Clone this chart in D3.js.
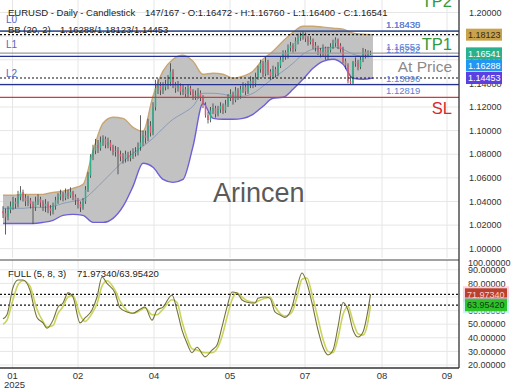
<!DOCTYPE html>
<html>
<head>
<meta charset="utf-8">
<script src="https://cdn.jsdelivr.net/npm/d3@7"></script>
<style>
  body { margin: 0; background: #fff; }
  text { font-family: "Liberation Sans", Arial, sans-serif; }
</style>
</head>
<body>
<svg id="chart"></svg>
<script>
// daily candles (bar index 0..147)
const opens = [
1.032,1.030,1.027,1.033,1.036,1.040,1.038,1.044,1.048,1.043,
1.040,1.041,1.038,1.035,1.040,1.042,1.039,1.036,1.038,1.034,
1.032,1.036,1.041,1.044,1.046,1.043,1.047,1.045,1.048,1.044,
1.041,1.038,1.035,1.040,1.050,1.062,1.078,1.083,1.088,1.085,
1.090,1.093,1.088,1.090,1.086,1.082,1.083,1.080,1.078,1.076,
1.080,1.077,1.079,1.081,1.082,1.086,1.090,1.096,1.094,1.104,
1.098,1.120,1.136,1.138,1.134,1.137,1.139,1.141,1.150,1.139,
1.136,1.138,1.133,1.135,1.131,1.136,1.133,1.129,1.130,1.132,
1.128,1.122,1.113,1.109,1.117,1.119,1.114,1.118,1.121,1.117,
1.122,1.128,1.131,1.126,1.134,1.129,1.135,1.137,1.133,1.139,
1.142,1.140,1.145,1.152,1.157,1.148,1.158,1.150,1.146,1.152,
1.148,1.155,1.160,1.165,1.163,1.170,1.172,1.169,1.176,1.179,
1.180,1.182,1.178,1.175,1.177,1.172,1.170,1.168,1.166,1.170,
1.163,1.168,1.171,1.174,1.177,1.172,1.169,1.159,1.155,1.142,
1.140,1.158,1.157,1.154,1.160,1.167,1.164,1.16472];
const highs = [
1.036,1.034,1.036,1.040,1.044,1.043,1.049,1.053,1.050,1.046,
1.045,1.043,1.040,1.044,1.046,1.044,1.041,1.042,1.040,1.037,
1.039,1.044,1.047,1.050,1.048,1.051,1.050,1.052,1.049,1.046,
1.043,1.040,1.043,1.053,1.065,1.080,1.088,1.093,1.092,1.095,
1.096,1.095,1.094,1.092,1.088,1.087,1.086,1.083,1.081,1.083,
1.082,1.083,1.085,1.086,1.090,1.113,1.100,1.100,1.110,1.108,
1.124,1.143,1.144,1.141,1.141,1.143,1.147,1.157,1.152,1.141,
1.142,1.140,1.139,1.137,1.139,1.138,1.135,1.134,1.136,1.134,
1.130,1.124,1.116,1.120,1.123,1.121,1.121,1.124,1.123,1.126,
1.131,1.135,1.133,1.137,1.136,1.138,1.141,1.140,1.142,1.146,
1.145,1.149,1.155,1.160,1.159,1.163,1.160,1.152,1.155,1.154,
1.158,1.163,1.168,1.168,1.173,1.175,1.174,1.179,1.182,1.183,
1.184,1.183,1.180,1.180,1.178,1.175,1.172,1.170,1.173,1.171,
1.171,1.174,1.177,1.179,1.178,1.174,1.171,1.161,1.157,1.146,
1.159,1.162,1.160,1.163,1.170,1.169,1.168,1.16760];
const lows = [
1.026,1.012,1.024,1.030,1.033,1.034,1.035,1.041,1.040,1.036,
1.036,1.034,1.021,1.032,1.037,1.035,1.032,1.031,1.030,1.028,
1.029,1.033,1.038,1.041,1.040,1.041,1.042,1.043,1.041,1.037,
1.034,1.031,1.033,1.038,1.048,1.060,1.075,1.080,1.081,1.083,
1.087,1.085,1.085,1.083,1.079,1.078,1.063,1.074,1.072,1.073,
1.074,1.074,1.076,1.078,1.079,1.083,1.087,1.089,1.091,1.095,
1.096,1.117,1.131,1.130,1.131,1.134,1.135,1.138,1.136,1.132,
1.133,1.130,1.130,1.128,1.128,1.130,1.126,1.126,1.127,1.125,
1.119,1.111,1.106,1.107,1.114,1.111,1.112,1.115,1.114,1.115,
1.120,1.125,1.122,1.124,1.126,1.127,1.132,1.130,1.131,1.136,
1.136,1.137,1.143,1.149,1.145,1.146,1.147,1.143,1.144,1.145,
1.146,1.153,1.158,1.160,1.161,1.167,1.166,1.167,1.173,1.176,
1.177,1.175,1.172,1.173,1.169,1.167,1.164,1.162,1.163,1.160,
1.160,1.166,1.169,1.171,1.169,1.166,1.157,1.152,1.140,1.139,
1.139,1.154,1.151,1.152,1.158,1.161,1.162,1.16400];
const closes = [
1.030,1.027,1.033,1.036,1.040,1.038,1.044,1.048,1.043,1.040,
1.041,1.038,1.035,1.040,1.042,1.039,1.036,1.038,1.034,1.032,
1.036,1.041,1.044,1.046,1.043,1.047,1.045,1.048,1.044,1.041,
1.038,1.035,1.040,1.050,1.062,1.078,1.083,1.088,1.085,1.090,
1.093,1.088,1.090,1.086,1.082,1.083,1.080,1.078,1.076,1.080,
1.077,1.079,1.081,1.082,1.086,1.090,1.096,1.094,1.104,1.098,
1.120,1.136,1.138,1.134,1.137,1.139,1.141,1.150,1.139,1.136,
1.138,1.133,1.135,1.131,1.136,1.133,1.129,1.130,1.132,1.128,
1.122,1.113,1.109,1.117,1.119,1.114,1.118,1.121,1.117,1.122,
1.128,1.131,1.126,1.134,1.129,1.135,1.137,1.133,1.139,1.142,
1.140,1.145,1.152,1.157,1.148,1.158,1.150,1.146,1.152,1.148,
1.155,1.160,1.165,1.163,1.170,1.172,1.169,1.176,1.179,1.180,
1.182,1.178,1.175,1.177,1.172,1.170,1.168,1.166,1.170,1.163,
1.168,1.171,1.174,1.177,1.172,1.169,1.159,1.155,1.142,1.140,
1.158,1.157,1.154,1.160,1.167,1.164,1.1647,1.16541];

// Bollinger (20, 2), sampled every 4 bars
const bbIdx = [0,4,8,12,16,20,24,28,32,36,40,44,48,52,56,60,64,68,72,76,80,84,88,92,96,100,104,108,112,116,120,124,128,132,136,140,144,148];
const bbUpper = [1.0452,1.0452,1.0460,1.0460,1.0460,1.0477,1.0486,1.0511,1.0545,1.0825,
  1.1062,1.1113,1.1104,1.1028,1.0994,1.1291,1.1503,1.1604,1.1638,1.1587,
  1.1477,1.1486,1.1477,1.1443,1.1460,1.1503,1.1604,1.1672,1.1757,1.1833,
  1.1884,1.1884,1.1876,1.1867,1.1859,1.1825,1.1816,1.1812];
const bbMid = [1.0342,1.0342,1.0342,1.0350,1.0350,1.0358,1.0384,1.0401,1.0418,1.0486,
  1.0570,1.0655,1.0740,1.0808,1.0867,1.0935,1.1020,1.1096,1.1147,1.1206,
  1.1316,1.1316,1.1308,1.1291,1.1291,1.1316,1.1376,1.1443,1.1503,1.1570,
  1.1647,1.1689,1.1698,1.1706,1.1689,1.1647,1.1630,1.1629];
const bbLower = [1.0214,1.0214,1.0214,1.0214,1.0223,1.0240,1.0282,1.0291,1.0282,1.0223,
  1.0223,1.0257,1.0358,1.0528,1.0723,1.0689,1.0587,1.0562,1.0587,1.0867,
  1.1231,1.1104,1.1096,1.1096,1.1104,1.1138,1.1206,1.1274,1.1282,1.1350,
  1.1435,1.1528,1.1587,1.1604,1.1562,1.1443,1.1435,1.1445];
const bbNow = [1.16288, 1.18123, 1.14453]; // mid / upper / lower

// stochastic FULL (5, 8, 3)
const stochIdx = [0,1.6,4,6,8,10.8,12,13.6,16,17.6,20,22,24,26,28,30.8,32.8,35.6,37.6,39.6,
  41.6,44.8,46.8,49.6,52,54.8,56.8,59.6,61.6,64,67.6,69.6,71.6,73.6,75.6,77.6,80.8,83.6,85.6,87.6,
  89.6,91.6,93.6,95.6,98,100.8,102,104.8,106.8,108.8,110.8,112.8,115.6,117.6,119.6,121.6,123.6,126,128,130,
  132,134,136,138,140,142,144,146,147];
const stochK = [54,57,77,82.5,82.5,75,65.6,55,51,47,53,62.6,65.6,73,70,51,54.6,60.4,70,84.7,
  80,73,62,59,58,61,62.6,53,60.4,62.6,71.5,60.4,45.7,36,29,33,26,31,34.7,48,
  62.6,73.7,73,67.8,66,65.6,69,70,69,59,56.8,55,62.6,77,87.6,80,65.6,45.7,33,27.4,
  31,48,66,60.4,45.7,40.6,44.3,60.4,71.9734];
const stochD = [50,53,68,79,82,78,71,61,52,48,49,58,63,70,71,57,52,58,65,78,
  82,75,67,60,58,60,62,57,57,61,68,66,52,40,32,31,29,29,32,41,
  55,68,73,70,67,66,67,69,70,63,58,56,59,70,83,84,72,54,39,30,
  29,40,57,63,52,43,42,52,63.9542];

// trade levels
const levelNames  = ['TP2', 'L0', 'TP1', 'L1', 'L2', 'SL'];
const levelValues = [1.18435, 1.18430, 1.16553, 1.16292, 1.13896, 1.12819];

// axes
const priceTicks = [1.00,1.02,1.04,1.06,1.08,1.10,1.12,1.14,1.16,1.18,1.20];
const stochTicks = [20,30,40,50,60,70,80,90,100];
const monthTicks = [3.8,30,60.4,90.8,120.8,151.6,177.6];
const monthLabels = ['01','02','04','05','07','08','09'];

const width = 520, height = 390, plotR = 459;
const mainTop = 0, mainBot = 258, stTop = 260, stBot = 368;

const svg = d3.select('#chart').attr('width', width).attr('height', height);

const x = d3.scaleLinear().domain([0, 182.4]).range([3, plotR]);
const y = d3.scaleLinear().domain([1.0, 1.2]).range([248.7, 12.5]);
const ys = d3.scaleLinear().domain([20, 90]).range([365, 269.8]);

// grid
const grid = svg.append('g').attr('stroke', '#e6e6e6').attr('stroke-width', 1);
priceTicks.forEach(v => {
  grid.append('line').attr('x1', 0).attr('x2', plotR).attr('y1', y(v)).attr('y2', y(v));
});
stochTicks.filter(v => ys(v) > stTop).forEach(v => {
  grid.append('line').attr('x1', 0).attr('x2', plotR).attr('y1', ys(v)).attr('y2', ys(v));
});
monthTicks.forEach(t => {
  grid.append('line').attr('x1', x(t)).attr('x2', x(t)).attr('y1', mainTop).attr('y2', mainBot);
  grid.append('line').attr('x1', x(t)).attr('x2', x(t)).attr('y1', stTop).attr('y2', stBot);
});

const defs = svg.append('defs');
defs.append('clipPath').attr('id', 'mainClip')
  .append('rect').attr('x', 0).attr('y', 0).attr('width', plotR).attr('height', mainBot);
defs.append('clipPath').attr('id', 'stClip')
  .append('rect').attr('x', 0).attr('y', stTop).attr('width', plotR).attr('height', stBot - stTop);

const main = svg.append('g').attr('clip-path', 'url(#mainClip)');

// watermark
svg.append('text').attr('x', 213).attr('y', 202).attr('font-size', 27)
  .attr('fill', '#5a5a5a').text('Arincen');

// bollinger band
const band = d3.area()
  .x((d, i) => x(bbIdx[i]))
  .y0((d, i) => y(bbLower[i]))
  .y1((d, i) => y(bbUpper[i]))
  .curve(d3.curveMonotoneX);
main.append('path').datum(bbIdx).attr('d', band).attr('fill', '#bfbfbf').attr('fill-opacity', 0.95);

const bandLine = arr => d3.line()
  .x((d, i) => x(bbIdx[i]))
  .y((d, i) => y(arr[i]))
  .curve(d3.curveMonotoneX)(bbIdx);
main.append('path').attr('d', bandLine(bbUpper)).attr('fill', 'none').attr('stroke', '#c9a571').attr('stroke-width', 1.4);
main.append('path').attr('d', bandLine(bbLower)).attr('fill', 'none').attr('stroke', '#6d5fd8').attr('stroke-width', 1.4);
main.append('path').attr('d', bandLine(bbMid)).attr('fill', 'none').attr('stroke', '#7b93b8').attr('stroke-width', 0.8);

// candles
const candles = main.append('g').selectAll('g').data(closes).enter().append('g');
candles.append('line')
  .attr('x1', (d, i) => x(i)).attr('x2', (d, i) => x(i))
  .attr('y1', (d, i) => y(highs[i])).attr('y2', (d, i) => y(lows[i]))
  .attr('stroke', '#3a3a3a').attr('stroke-width', 0.8);
candles.append('rect')
  .attr('x', (d, i) => x(i) - 0.75).attr('width', 1.5)
  .attr('y', (d, i) => y(Math.max(opens[i], d)))
  .attr('height', (d, i) => Math.max(0.8, Math.abs(y(opens[i]) - y(d))))
  .attr('fill', (d, i) => d >= opens[i] ? '#2fae8a' : '#dc5a74');

// level lines
const levelColor = { TP2: '#7fa595', L0: '#24318f', TP1: '#9a9a9a', L1: '#24318f', L2: '#24318f', SL: '#d33a3a' };
levelNames.forEach((n, i) => {
  main.append('line').attr('x1', 0).attr('x2', plotR)
    .attr('y1', y(levelValues[i])).attr('y2', y(levelValues[i]))
    .attr('stroke', levelColor[n]).attr('stroke-width', 1.2);
  svg.append('text').attr('x', 386).attr('y', y(levelValues[i]) - 3)
    .attr('font-size', 9.5).attr('fill', '#5b7fd6').text(levelValues[i].toFixed(5));
  if (n[0] === 'L') {
    svg.append('text').attr('x', 6).attr('y', y(levelValues[i]) - 8)
      .attr('font-size', 10).attr('fill', '#5a64c4').text(n);
  }
});
// dotted lines at the current upper / lower band
[bbNow[1], bbNow[2]].forEach(v => {
  main.append('line').attr('x1', 0).attr('x2', plotR).attr('y1', y(v)).attr('y2', y(v))
    .attr('stroke', '#111').attr('stroke-width', 1.2).attr('stroke-dasharray', '2,2');
});

// big level tags
const tag = (t, yy, col, fs) => svg.append('text').attr('x', 452).attr('y', yy)
  .attr('text-anchor', 'end').attr('font-size', fs).attr('fill', col).text(t);
tag('TP2', 7, '#2f9a3e', 16.5);
tag('TP1', 50, '#2f9a3e', 16.5);
tag('At Price', 72, '#8a8a8a', 15.5);
tag('SL', 114, '#d8262f', 16.5);

// titles
svg.append('text').attr('x', 8).attr('y', 16).attr('font-size', 9.5).attr('fill', '#222')
  .text('EURUSD - Daily - Candlestick');
svg.append('text').attr('x', 145).attr('y', 16).attr('font-size', 9.5).attr('fill', '#222')
  .text('147/167 - O:' + opens[147].toFixed(5) + ' - H:' + highs[147].toFixed(5) +
        ' - L:' + lows[147].toFixed(5) + ' - C:' + closes[147].toFixed(5));
svg.append('text').attr('x', 8).attr('y', 33).attr('font-size', 9.5).attr('fill', '#222').text('BB (20, 2)');
svg.append('text').attr('x', 60).attr('y', 33).attr('font-size', 9.5).attr('fill', '#222')
  .text(bbNow.map(v => v.toFixed(5)).join('/'));

// right price axis
const axisG = svg.append('g');
priceTicks.forEach(v => {
  axisG.append('text').attr('x', 469).attr('y', y(v) + 3.2).attr('font-size', 9)
    .attr('fill', '#333').text(v.toFixed(5));
});
// current value boxes, stacked so they do not overlap
const boxes = [
  { v: bbNow[1], bg: '#c9a24c', fg: '#3a2a10' },
  { v: closes[147], bg: '#2bb08e', fg: '#fff' },
  { v: bbNow[0], bg: '#2196f3', fg: '#fff' },
  { v: bbNow[2], bg: '#5b3fe0', fg: '#fff' }
];
let prevY = -100;
boxes.forEach(b => {
  let cy = Math.max(y(b.v), prevY + 12);
  prevY = cy;
  axisG.append('rect').attr('x', 466).attr('y', cy - 6).attr('width', 36).attr('height', 12).attr('fill', b.bg);
  axisG.append('text').attr('x', 468).attr('y', cy + 3.2).attr('font-size', 9).attr('fill', b.fg)
    .text(b.v.toFixed(5));
});

// stochastic panel
const st = svg.append('g').attr('clip-path', 'url(#stClip)');
[stochK[stochK.length - 1], stochD[stochD.length - 1]].forEach(v => {
  st.append('line').attr('x1', 0).attr('x2', plotR).attr('y1', ys(v)).attr('y2', ys(v))
    .attr('stroke', '#111').attr('stroke-width', 1.2).attr('stroke-dasharray', '2,2');
});
const stLine = arr => d3.line()
  .x((d, i) => x(stochIdx[i]))
  .y((d, i) => ys(arr[i]))
  .curve(d3.curveMonotoneX)(stochIdx);
st.append('path').attr('d', stLine(stochD)).attr('fill', 'none').attr('stroke', '#c9d45c').attr('stroke-width', 1.6);
st.append('path').attr('d', stLine(stochK)).attr('fill', 'none').attr('stroke', '#76713a').attr('stroke-width', 1.1);

svg.append('text').attr('x', 8).attr('y', 277).attr('font-size', 9.5).attr('fill', '#222').text('FULL (5, 8, 3)');
svg.append('text').attr('x', 77).attr('y', 277).attr('font-size', 9.5).attr('fill', '#222')
  .text(stochK[stochK.length - 1].toFixed(5) + '/' + stochD[stochD.length - 1].toFixed(5));

stochTicks.forEach(v => {
  axisG.append('text').attr('x', 468).attr('y', Math.max(ys(v), 263) + 3.2).attr('font-size', 9)
    .attr('fill', '#333').text(v.toFixed(5));
});
const stBoxes = [
  { v: stochK[stochK.length - 1], bg: '#b8402c', fg: '#ffd0d0', glow: '#ffb0c8' },
  { v: stochD[stochD.length - 1], bg: '#2ec22a', fg: '#103a10', glow: '#a8f0f0' }
];
stBoxes.forEach(b => {
  const cy = ys(b.v);
  axisG.append('rect').attr('x', 463).attr('y', cy - 8).attr('width', 46).attr('height', 16).attr('fill', b.glow).attr('opacity', 0.6);
  axisG.append('rect').attr('x', 465).attr('y', cy - 6).attr('width', 42).attr('height', 12).attr('fill', b.bg);
  axisG.append('text').attr('x', 467).attr('y', cy + 3.2).attr('font-size', 9).attr('fill', b.fg)
    .text(b.v.toFixed(5));
});

// frame lines
svg.append('line').attr('x1', 0).attr('x2', plotR).attr('y1', stTop).attr('y2', stTop).attr('stroke', '#444');
svg.append('line').attr('x1', 0).attr('x2', plotR).attr('y1', stBot).attr('y2', stBot).attr('stroke', '#333').attr('stroke-width', 1.3);
svg.append('line').attr('x1', plotR).attr('x2', plotR).attr('y1', 0).attr('y2', stBot).attr('stroke', '#333').attr('stroke-width', 1.3);

// month labels
monthTicks.forEach((t, i) => {
  svg.append('text').attr('x', i === 0 ? 12.5 : x(t)).attr('y', 379).attr('text-anchor', 'middle')
    .attr('font-size', 9.5).attr('fill', '#333').text(monthLabels[i]);
});
svg.append('text').attr('x', 4).attr('y', 388).attr('font-size', 9.5).attr('fill', '#333').text('2025');
</script>
</body>
</html>
